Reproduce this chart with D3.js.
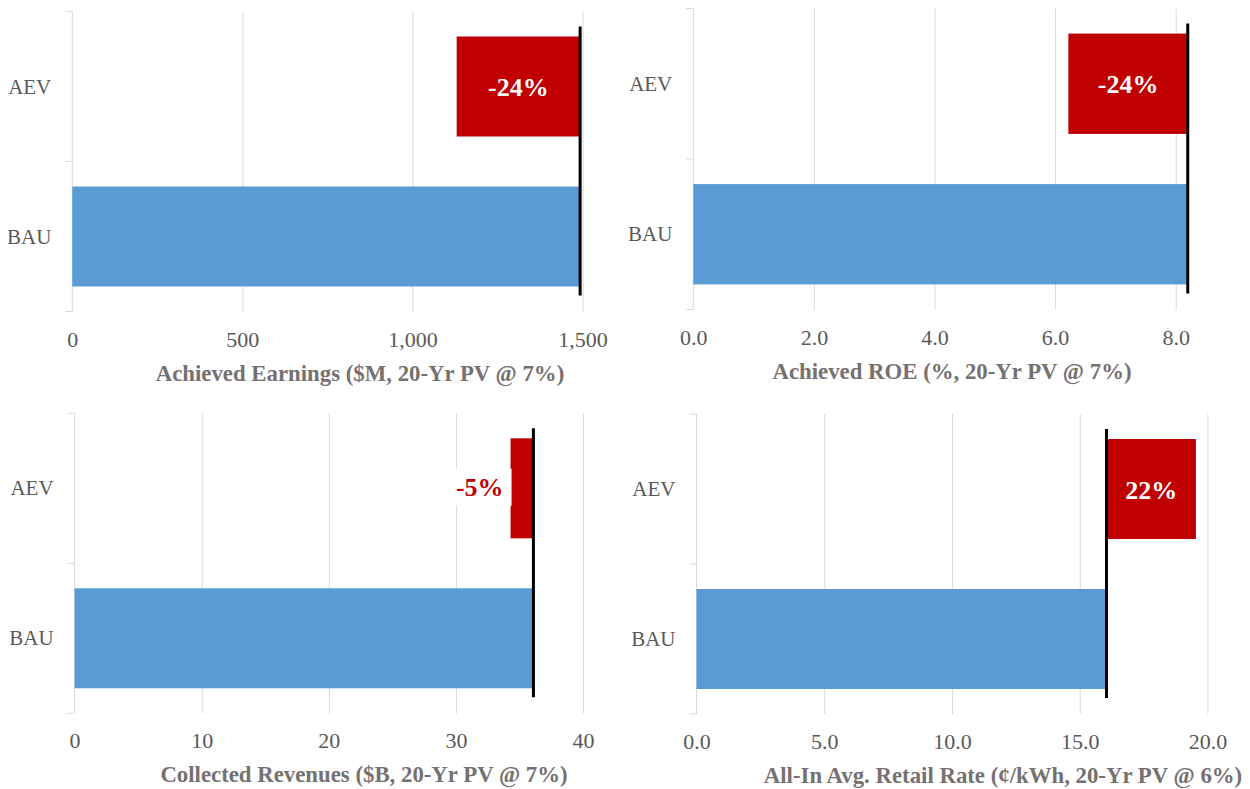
<!DOCTYPE html>
<html>
<head>
<meta charset="utf-8">
<script src="https://cdn.jsdelivr.net/npm/d3@7"></script>
<style>
  html, body { margin: 0; padding: 0; background: #fff; }
  svg { display: block; font-family: "Liberation Serif", "Times New Roman", serif; }
</style>
</head>
<body>
<svg id="chart" width="1250" height="789"></svg>
<script>
// Scenario categories shared by all four panels
const categories = ["AEV", "BAU"];

// Axis titles, one per panel
const axisTitles = [
  "Achieved Earnings ($M, 20-Yr PV @ 7%)",
  "Achieved ROE (%, 20-Yr PV @ 7%)",
  "Collected Revenues ($B, 20-Yr PV @ 7%)",
  "All-In Avg. Retail Rate (\u00a2/kWh, 20-Yr PV @ 6%)"
];

// Business-as-usual values and the AEV scenario values
const bauValues = [1493, 8.2, 36.1, 16.05];
const aevValues = [1130, 6.22, 34.3, 19.55];

// Change of AEV relative to BAU
const changeLabels = ["-24%", "-24%", "-5%", "22%"];

// Value-axis ticks and their labels
const tickValues = [
  [0, 500, 1000, 1500],
  [0, 2, 4, 6, 8],
  [0, 10, 20, 30, 40],
  [0, 5, 10, 15, 20]
];
const tickLabels = [
  ["0", "500", "1,000", "1,500"],
  ["0.0", "2.0", "4.0", "6.0", "8.0"],
  ["0", "10", "20", "30", "40"],
  ["0.0", "5.0", "10.0", "15.0", "20.0"]
];
const axisMax = [1500, 9, 40, 20];

// Plot rectangles for the 2x2 grid of panels
const layout = [
  { left: 72.3, right: 582.5, top: 11.5, bottom: 311.5, titleX: 360 },
  { left: 693.3, right: 1236, top: 8.5, bottom: 309.5, titleX: 952 },
  { left: 74.6, right: 583, top: 413.3, bottom: 713.3, titleX: 364 },
  { left: 696.5, right: 1207.4, top: 414, bottom: 714, titleX: 1003 }
];

const COLORS = {
  bau: "#5b9bd5",
  change: "#c00000",
  grid: "#d9d9d9",
  tick: "#595959",
  title: "#767171",
  ref: "#000000"
};

const svg = d3.select("#chart");

layout.forEach((p, i) => {
  const g = svg.append("g").attr("class", "panel");

  const x = d3.scaleLinear().domain([0, axisMax[i]]).range([p.left, p.right]);
  const y = d3.scaleBand()
    .domain(categories)
    .range([p.top, p.bottom])
    .paddingInner(1 / 3)
    .paddingOuter(1 / 6);
  const height = p.bottom - p.top;

  // Vertical gridlines
  const grid = g.append("g")
    .attr("transform", `translate(0,${p.bottom})`)
    .call(d3.axisBottom(x)
      .tickValues(tickValues[i].filter(v => v > 0))
      .tickSize(-height)
      .tickFormat(""));
  grid.select(".domain").remove();
  grid.selectAll(".tick line").attr("stroke", COLORS.grid).attr("stroke-width", 1);

  // Tick labels
  const axis = g.append("g")
    .attr("transform", `translate(0,${p.bottom})`)
    .call(d3.axisBottom(x)
      .tickValues(tickValues[i])
      .tickSize(0)
      .tickPadding(19.5)
      .tickFormat((d, k) => tickLabels[i][k]));
  axis.select(".domain").remove();
  axis.selectAll(".tick text")
    .attr("fill", COLORS.tick)
    .style("font-size", "22px")
    .style("font-family", "'Liberation Serif', 'Times New Roman', serif");

  // Category axis line with ticks at band boundaries
  g.append("line")
    .attr("x1", x(0)).attr("x2", x(0))
    .attr("y1", p.top).attr("y2", p.bottom)
    .attr("stroke", COLORS.grid).attr("stroke-width", 1);
  const step = y.step();
  const boundaries = [p.top, p.top + step, p.bottom];
  g.selectAll("line.cat-tick")
    .data(boundaries)
    .join("line")
    .attr("class", "cat-tick")
    .attr("x1", x(0) - 7).attr("x2", x(0))
    .attr("y1", d => d).attr("y2", d => d)
    .attr("stroke", COLORS.grid).attr("stroke-width", 1);

  // Category labels
  g.selectAll("text.cat")
    .data(categories)
    .join("text")
    .attr("class", "cat")
    .attr("x", x(0) - 21)
    .attr("y", d => y(d) + y.bandwidth() / 2)
    .attr("text-anchor", "end")
    .attr("dominant-baseline", "central")
    .attr("fill", COLORS.tick)
    .style("font-size", "21px")
    .text(d => d);

  // BAU bar
  const bau = bauValues[i];
  const aev = aevValues[i];
  g.append("rect")
    .attr("x", x(0))
    .attr("y", y("BAU"))
    .attr("width", x(bau) - x(0))
    .attr("height", y.bandwidth())
    .attr("fill", COLORS.bau);

  // AEV change bar, spanning from the AEV value to the BAU value
  const lo = Math.min(aev, bau);
  const hi = Math.max(aev, bau);
  const barX = x(lo);
  const barW = x(hi) - x(lo);
  const barY = y("AEV");
  g.append("rect")
    .attr("x", barX)
    .attr("y", barY)
    .attr("width", barW)
    .attr("height", y.bandwidth())
    .attr("fill", COLORS.change);

  // BAU reference line
  g.append("line")
    .attr("x1", x(bau)).attr("x2", x(bau))
    .attr("y1", y("AEV") - 10)
    .attr("y2", y("BAU") + y.bandwidth() + 9)
    .attr("stroke", COLORS.ref)
    .attr("stroke-width", 3);

  // Change label: inside the bar when it fits, otherwise to its left on a white box
  const cy = barY + y.bandwidth() / 2 + 1;
  const label = g.append("text")
    .attr("dominant-baseline", "central")
    .style("font-size", "26px")
    .style("font-weight", "bold")
    .text(changeLabels[i]);
  const tw = label.node().getComputedTextLength();
  if (barW >= tw + 12) {
    label.attr("x", barX + barW / 2)
      .attr("y", cy)
      .attr("text-anchor", "middle")
      .attr("fill", "#ffffff");
  } else {
    const tx = barX - 7;
    label.attr("x", tx)
      .attr("y", cy - 2)
      .attr("text-anchor", "end")
      .attr("fill", COLORS.change);
    g.insert("rect", function () { return label.node(); })
      .attr("x", tx - tw - 1)
      .attr("y", cy - 2 - 18.5)
      .attr("width", tw + 9)
      .attr("height", 37)
      .attr("fill", "#ffffff");
  }

  // Axis title
  g.append("text")
    .attr("x", p.titleX)
    .attr("y", p.bottom + 69)
    .attr("text-anchor", "middle")
    .attr("fill", COLORS.title)
    .style("font-size", "22.8px")
    .style("font-weight", "bold")
    .text(axisTitles[i]);
});
</script>
</body>
</html>
